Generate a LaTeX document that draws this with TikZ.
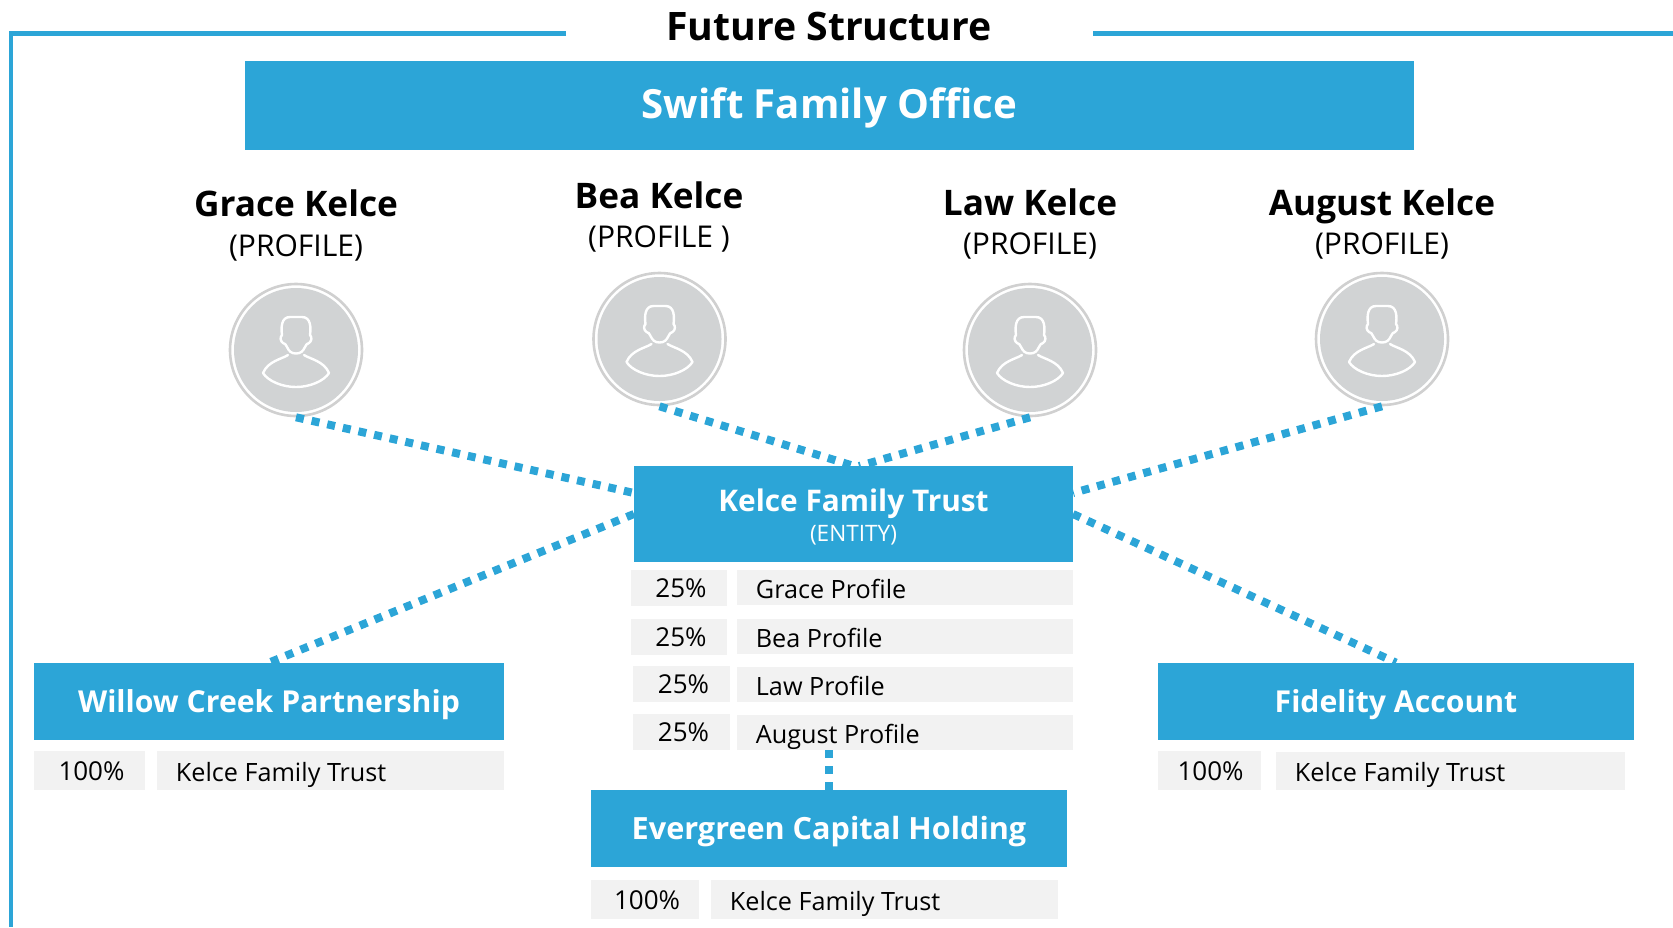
\documentclass[tikz,border=0pt]{standalone}
\usepackage{fontspec}
\setmainfont{Open Sans}
\definecolor{sblue}{HTML}{2CA5D7}
\definecolor{scell}{HTML}{F2F2F2}
\definecolor{scirc}{HTML}{D1D3D4}
\definecolor{sring}{HTML}{D0D0D0}
\tikzset{
  bluebox/.style={fill=sblue,text=white,inner sep=0pt,text height=11pt,text depth=0.3pt,font=\fontsize{15.1}{18}\selectfont\bfseries},
  plainblue/.style={fill=sblue,inner sep=0pt},
  boxtext/.style={text=white,inner sep=0pt,align=center,font=\fontsize{15}{18}\selectfont\bfseries},
  pctcell/.style={fill=scell,inner sep=0pt,text=black,text height=9.5pt,text depth=0pt,font=\fontsize{13}{14}\selectfont},
  namecell/.style={inner sep=0pt,text=black,text height=9.5pt,text depth=0pt,font=\fontsize{12.6}{14}\selectfont},
  personname/.style={inner sep=0pt,text=black,text height=12.5pt,text depth=0pt,font=\fontsize{17.6}{20}\selectfont\bfseries},
  profiletag/.style={inner sep=0pt,text=black,font=\fontsize{15}{18}\selectfont},
  avatar/.style={circle,draw=sring,line width=1.3pt,minimum size=66pt,inner sep=0pt},
  dotted link/.style={draw=sblue,line width=4pt,dash pattern=on 4pt off 4pt},
  frame line/.style={draw=sblue,line width=2.2pt},
  icon line/.style={draw=white,line width=1.2pt,line cap=round,line join=round}
}
% name, x1, y1, x2, y2, style, text
\newcommand\bx[7]{\node[#6,minimum width={(#4-#2)*0.5},minimum height={(#5-#3)*0.5}] (#1) at ({(#2+#4)/2},{(#3+#5)/2}) {#7};}
% grey band with a left-aligned text: name, x1, y1, x2, y2, text
\newcommand\ncc[6]{\fill[scell] (#2,#3) rectangle (#4,#5);
  \node[namecell,anchor=west] (#1) at ({#2+18.5},{(#3+#5)/2+1}) {#6};}
\newcommand\avatarat[3]{%
  \node[avatar] (#1) at (#2,#3) {};
  \fill[scirc] (#2,#3) circle (62);
  \begin{scope}[shift={(#2,#3)}]
    \draw[icon line] (0,3.5) .. controls (-5,3.5) and (-7,1) .. (-9,-3) .. controls (-10,-6) and (-11,-6) .. (-13,-7)
      .. controls (-16,-9) and (-16,-13) .. (-14,-15) .. controls (-15,-22) and (-15,-33) .. (-6,-33) -- (6,-33)
      .. controls (15,-33) and (15,-22) .. (14,-15) .. controls (16,-13) and (16,-9) .. (13,-7)
      .. controls (11,-6) and (10,-6) .. (9,-3) .. controls (7,1) and (5,3.5) .. (0,3.5);
    \draw[icon line] (-8,5) .. controls (-14,9) and (-28,11) .. (-33,23) .. controls (-28,31) and (-14,37) .. (0,37)
      .. controls (14,37) and (28,31) .. (33,23) .. controls (28,11) and (14,9) .. (8,5);
  \end{scope}}
\begin{document}
\begin{tikzpicture}[x=0.5pt,y=-0.5pt]
\useasboundingbox (0,0) rectangle (1673,927);
% frame
\draw[frame line] (566,33.5) -- (11,33.5) -- (11,927);
\draw[frame line] (1093,33.5) -- (1673,33.5);
\node[inner sep=0pt,text=black,font=\fontsize{19.6}{24}\selectfont\bfseries] (title) at (829,26) {Future Structure};
\bx{office}{245}{61}{1414}{150}{bluebox,text height=13.2pt,font=\fontsize{20.1}{24}\selectfont\bfseries}{Swift Family Office}
% people
\node[personname] (gname) at (296,204) {Grace Kelce};
\node[profiletag] (gtag) at (296,247.5) {(PROFILE)};
\node[personname] (bname) at (659,196) {Bea Kelce};
\node[profiletag] (btag) at (659,239) {(PROFILE )};
\node[personname] (lname) at (1030,203) {Law Kelce};
\node[profiletag] (ltag) at (1030,245.5) {(PROFILE)};
\node[personname] (aname) at (1382,203) {August Kelce};
\node[profiletag] (atag) at (1382,245.5) {(PROFILE)};
\avatarat{grace}{296}{350}
\avatarat{bea}{659.5}{339}
\avatarat{law}{1030}{350}
\avatarat{august}{1382}{339}
% trust
\bx{kelce}{634}{466}{1073}{562}{plainblue}{}
\node[boxtext,font=\fontsize{14.9}{18}\selectfont\bfseries] (kelcetext) at (853.5,517) {Kelce Family Trust\\[-3.1pt]{\fontsize{11.3}{13}\selectfont\mdseries (ENTITY)}};
\bx{p1}{631}{570}{727}{606}{pctcell}{\kern2pt 25\%}
\ncc{n1}{737}{570}{1073}{605}{Grace Profile}
\bx{p2}{631}{619}{727}{655}{pctcell}{\kern2pt 25\%}
\ncc{n2}{737}{619}{1073}{654}{Bea Profile}
\bx{p3}{633}{666}{730}{702}{pctcell}{\kern2pt 25\%}
\ncc{n3}{737}{667}{1073}{702}{Law Profile}
\bx{p4}{633}{714}{730}{750}{pctcell}{\kern2pt 25\%}
\ncc{n4}{737}{715}{1073}{750}{August Profile}
% holdings
\bx{willow}{34}{663}{504}{740}{bluebox}{Willow Creek Partnership}
\bx{wp}{34}{751}{145}{790}{pctcell}{\kern2pt 100\%}
\ncc{wn}{157}{751}{504}{790}{Kelce Family Trust}
\bx{fidelity}{1158}{663}{1634}{740}{bluebox}{Fidelity Account}
\bx{fp}{1158}{751}{1261}{790}{pctcell}{\kern1pt 100\%}
\ncc{fn}{1276}{752}{1625}{790}{Kelce Family Trust}
\bx{evergreen}{591}{790}{1067}{867}{bluebox,font=\fontsize{15.3}{18}\selectfont\bfseries}{Evergreen Capital Holding}
\bx{ep}{591}{880}{699}{919}{pctcell}{\kern2pt 100\%}
\ncc{en}{711}{880}{1058}{919}{Kelce Family Trust}
% attachment points
\coordinate (kwu) at (634,493);
\coordinate (kwl) at (634,514);
\coordinate (keu) at (1073,493);
\coordinate (kel) at (1073,514);
\coordinate (knl) at (854,466);
\coordinate (knr) at (859,466);
\coordinate (n4b) at (829,750);
% connectors
\draw[dotted link] (grace.south) -- (kwu);
\draw[dotted link] (bea.south) -- (knl);
\draw[dotted link] (law.south) -- (knr);
\draw[dotted link] (august.south) -- (keu);
\draw[dotted link] (kwl) -- (willow.north);
\draw[dotted link] (kel) -- (fidelity.north);
\draw[dotted link] (n4b) -- (evergreen.north);
\end{tikzpicture}
\end{document}
